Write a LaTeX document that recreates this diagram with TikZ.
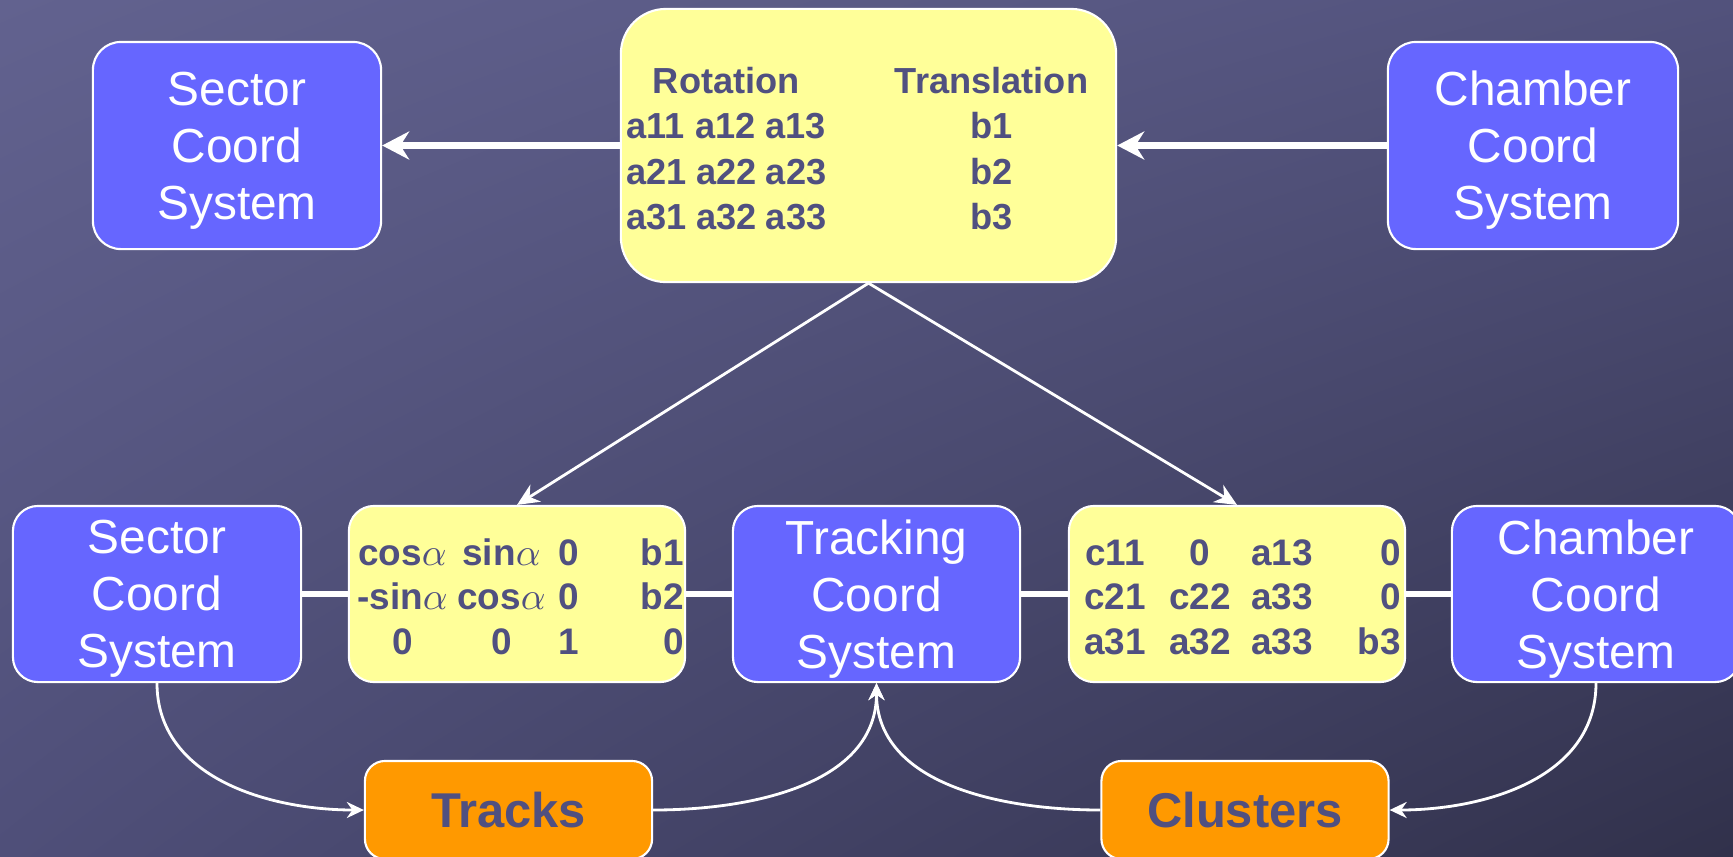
\documentclass[tikz,border=0pt]{standalone}
\usepackage{fontspec}
\setmainfont{Liberation Sans}
\usepackage{array}
\usetikzlibrary{arrows.meta, shadings}
\definecolor{bg-ul}{HTML}{62628F}
\definecolor{bg-ur}{HTML}{52527C}
\definecolor{bg-ll}{HTML}{4F4F79}
\definecolor{bg-lr}{HTML}{31314B}
\definecolor{box-blue}{HTML}{6666FF}
\definecolor{box-yellow}{HTML}{FFFF99}
\definecolor{box-orange}{HTML}{FF9900}
\definecolor{ink}{HTML}{505080}
\newcolumntype{C}[1]{>{\centering\arraybackslash}p{#1}}
\newcolumntype{R}[1]{>{\raggedleft\arraybackslash}p{#1}}

\begin{document}
\begin{tikzpicture}[x=0.01cm, y=0.01cm,
    coordbox/.style={draw=white, line width=0.6pt, fill=box-blue, text=white,
      rounded corners=0.28cm, align=center, inner sep=0pt, text depth=0pt,
      minimum width=2.88cm, font=\fontsize{13.6}{16.2}\selectfont},
    matbox/.style={draw=white, line width=0.6pt, fill=box-yellow, text=ink,
      rounded corners=0.25cm, inner sep=0pt, minimum width=3.36cm,
      minimum height=1.76cm, font=\bfseries\fontsize{10.5}{12.6}\selectfont},
    databox/.style={draw=white, line width=0.6pt, fill=box-orange, text=ink,
      rounded corners=0.2cm, minimum width=2.87cm, minimum height=0.98cm,
      font=\bfseries\fontsize{13.9}{16}\selectfont},
    link/.style={white, line width=1.8pt},
    flow/.style={white, line width=0.8pt, -{Stealth[length=0.22cm, width=0.2cm]}},
    curve/.style={white, line width=0.8pt, -{Stealth[length=0.17cm, width=0.16cm]}}]
    \useasboundingbox (0,0) rectangle (1733,856);
    \clip (0,0) rectangle (1733,856);
    \shade[upper left=bg-ul, upper right=bg-ur, lower left=bg-ll,
      lower right=bg-lr] (0,0) rectangle (1733,856);

    % top row
    \node[coordbox, minimum height=2.07cm] (sec1) at (237, 710.5)
      {Sector\\Coord\\System};
    \node[matbox, minimum width=4.95cm, minimum height=2.73cm,
      rounded corners=0.45cm, font=\bfseries\fontsize{10.3}{12.9}\selectfont]
      (rt) at (868.5, 710.5)
      {\raisebox{-0.07cm}[\height][\depth]{%
      \begin{tabular}{@{}C{2.0cm}@{\hspace{0.46cm}}C{2.38cm}@{}}
        Rotation & Translation\\
        a11 a12 a13 & b1\\
        a21 a22 a23 & b2\\
        a31 a32 a33 & b3
      \end{tabular}}};
    \node[coordbox, minimum width=2.9cm, minimum height=2.07cm] (cham1)
      at (1533, 710.5) {Chamber\\Coord\\System};
    \draw[link, -{Stealth[length=0.27cm, width=0.28cm]}] (rt.west) -- (sec1.east);
    \draw[link, -{Stealth[length=0.27cm, width=0.28cm]}] (cham1.west) -- (rt.east);

    % bottom row
    \node[coordbox, minimum height=1.76cm, rounded corners=0.25cm] (sec2)
      at (157, 262) {Sector\\Coord\\System};
    \node[matbox] (mat1) at (517, 262)
      {\raisebox{-0.07cm}[\height][\depth]{%
      \begin{tabular}{@{}C{1.04cm}@{}C{0.94cm}@{}C{0.40cm}@{}R{0.95cm}@{}}
        cos$\alpha$ & sin$\alpha$ & 0 & b1\\
        -sin$\alpha$ & cos$\alpha$ & 0 & b2\\
        0 & 0 & 1 & 0
      \end{tabular}}};
    \node[coordbox, minimum width=2.87cm, minimum height=1.76cm,
      rounded corners=0.25cm] (trk) at (876.5, 262) {Tracking\\Coord\\System};
    \node[matbox] (mat2) at (1237, 262)
      {\raisebox{-0.07cm}[\height][\depth]{%
      \begin{tabular}{@{}C{0.84cm}@{}C{0.86cm}@{}C{0.78cm}@{}R{0.80cm}@{}}
        c11 & 0 & a13 & 0\\
        c21 & c22 & a33 & 0\\
        a31 & a32 & a33 & b3
      \end{tabular}}};
    \node[coordbox, minimum height=1.76cm, rounded corners=0.25cm] (cham2)
      at (1596, 262) {Chamber\\Coord\\System};
    \draw[link] (sec2.east) -- (mat1.west);
    \draw[link] (mat1.east) -- (trk.west);
    \draw[link] (trk.east) -- (mat2.west);
    \draw[link] (mat2.east) -- (cham2.west);
    \draw[flow] (rt.south) -- (mat1.north);
    \draw[flow] (rt.south) -- (mat2.north);

    % data
    \node[databox] (tracks) at (508.5, 46) {Tracks};
    \node[databox] (clusters) at (1245, 46) {Clusters};
    \draw[curve] (sec2.south) to[out=270, in=180] (tracks.west);
    \draw[curve] (tracks.east) to[out=0, in=270] (trk.south);
    \draw[curve] (clusters.west) to[out=180, in=270] (trk.south);
    \draw[curve] (cham2.south) to[out=270, in=0] (clusters.east);
  \end{tikzpicture}
\end{document}
